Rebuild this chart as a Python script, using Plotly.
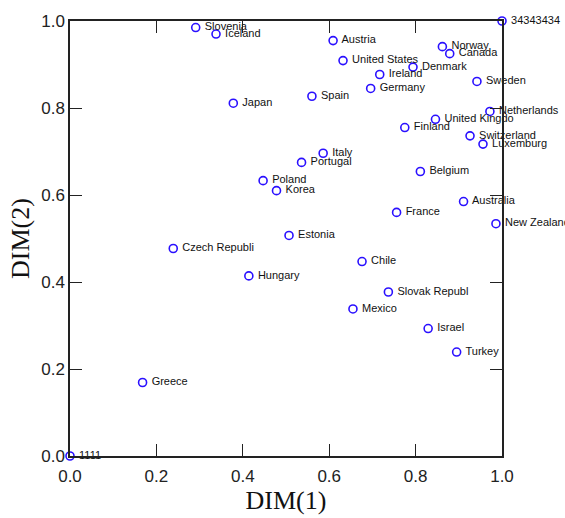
import plotly.graph_objects as go

names = ["1111", "34343434", "Slovenia", "Iceland", "Austria", "United States", "Ireland",
         "Germany", "Denmark", "Norway", "Canada", "Sweden", "Netherlands", "United Kingdo",
         "Finland", "Switzerland", "Luxemburg", "Spain", "Japan", "Italy", "Portugal",
         "Poland", "Korea", "Belgium", "Australia", "France", "New Zealand", "Estonia",
         "Czech Republi", "Hungary", "Chile", "Slovak Republ", "Mexico", "Israel", "Turkey",
         "Greece"]
dim1 = [0.0, 1.0, 0.291, 0.338, 0.609, 0.632, 0.717,
        0.696, 0.794, 0.862, 0.879, 0.942, 0.972, 0.846,
        0.775, 0.926, 0.956, 0.560, 0.378, 0.586, 0.536,
        0.447, 0.478, 0.811, 0.911, 0.756, 0.986, 0.507,
        0.239, 0.414, 0.676, 0.737, 0.655, 0.829, 0.895,
        0.168]
dim2 = [0.0, 1.0, 0.985, 0.970, 0.955, 0.909, 0.877,
        0.845, 0.894, 0.941, 0.925, 0.861, 0.792, 0.774,
        0.755, 0.736, 0.717, 0.827, 0.811, 0.696, 0.675,
        0.633, 0.610, 0.654, 0.585, 0.560, 0.534, 0.507,
        0.477, 0.414, 0.447, 0.377, 0.338, 0.293, 0.239,
        0.169]
tick_vals = [0.0, 0.2, 0.4, 0.6, 0.8, 1.0]
tick_text = ["0.0", "0.2", "0.4", "0.6", "0.8", "1.0"]

fig = go.Figure()
fig.add_trace(go.Scatter(
    x=dim1, y=dim2, mode="markers+text", text=[" " + n for n in names],
    textposition="middle right",
    textfont=dict(family="Liberation Sans, Arial", size=11, color="#111111"),
    marker=dict(symbol="circle-open", size=8, color="#2a10ff", line=dict(width=1.6, color="#2a10ff")),
    cliponaxis=False, showlegend=False,
))

axis_common = dict(
    range=[0, 1], tickvals=tick_vals, ticktext=tick_text, ticks="inside", ticklen=12,
    tickwidth=1.2, tickcolor="#222222", showline=True, linecolor="#222222", linewidth=1.5,
    mirror="ticks", showgrid=False, zeroline=False,
    tickfont=dict(family="Liberation Sans, Arial", size=17, color="#222222"),
)
fig.update_xaxes(**axis_common, ticklabelstandoff=4,
                 title=dict(text="DIM(1)", font=dict(family="Liberation Serif, Times New Roman", size=26, color="#111111"), standoff=2))
fig.update_yaxes(**axis_common,
                 title=dict(text="DIM(2)", font=dict(family="Liberation Serif, Times New Roman", size=26, color="#111111"), standoff=4))

fig.update_layout(
    width=565, height=518,
    margin=dict(l=70, r=63, t=16, b=62),
    plot_bgcolor="white", paper_bgcolor="white",
)
fig.write_html("out.html")
